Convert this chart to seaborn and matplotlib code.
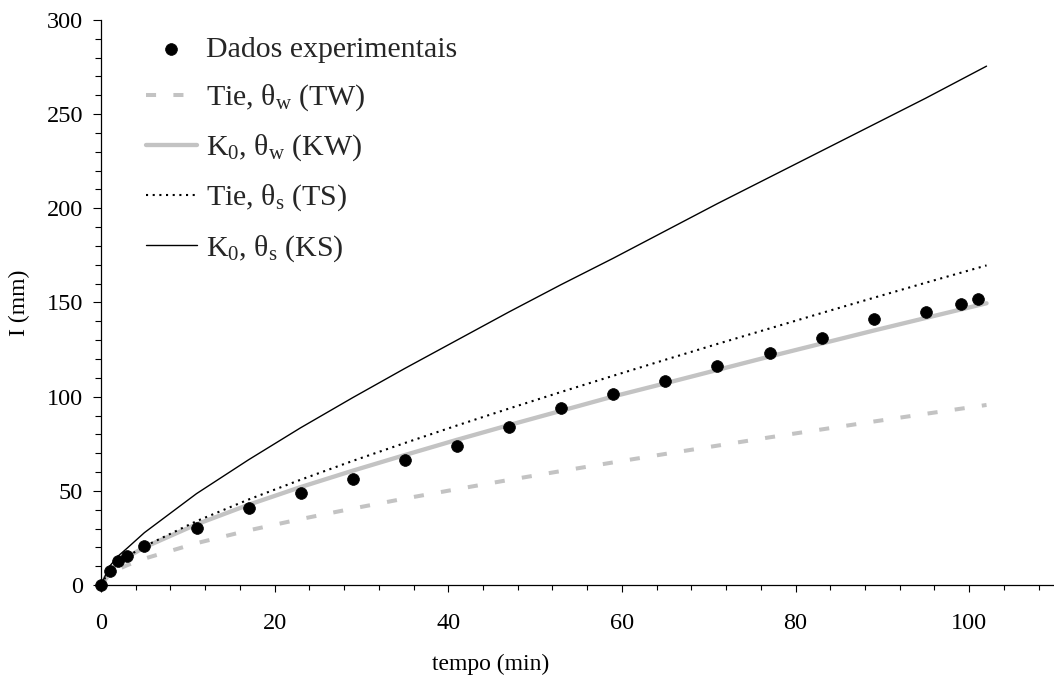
import matplotlib
matplotlib.use("Agg")
import matplotlib.pyplot as plt
import seaborn as sns
import pandas as pd
from matplotlib.ticker import MultipleLocator

# Measured cumulative infiltration
t_obs = [0, 1, 2, 3, 5, 11, 17, 23, 29, 35, 41, 47, 53, 59, 65, 71, 77, 83, 89, 95, 99, 101]
i_obs = [0, 7.5, 12.5, 15.2, 20.5, 30.3, 40.8, 48.8, 56.3, 66.4, 73.8, 83.9, 93.8, 101.4,
         108.3, 116.3, 123.2, 131.2, 141.3, 145.0, 149.2, 151.9]

# Model curves
t_mod = [0, 1, 2, 3, 5, 11, 17, 23, 29, 35, 41, 47, 53, 59, 65, 71, 77, 83, 89, 95, 102]
i_tw = [0, 5.7, 8.4, 10.5, 14.0, 22.2, 29.0, 35.0, 40.6, 45.9, 50.9, 55.8, 60.5, 65.1,
        69.6, 74.0, 78.4, 82.6, 86.8, 90.9, 95.6]
i_kw = [0, 8.0, 11.7, 14.8, 20.0, 32.2, 42.6, 52.0, 60.7, 69.0, 77.1, 84.9, 92.5, 100.1,
        107.1, 114.2, 121.3, 128.2, 135.1, 141.8, 149.6]
i_ts = [0, 8.0, 11.9, 15.1, 20.5, 33.9, 45.4, 55.9, 65.9, 75.4, 84.7, 93.7, 102.5, 111.1,
        119.6, 128.0, 136.2, 144.4, 152.5, 160.5, 169.7]
i_ks = [0, 10.0, 15.5, 19.5, 27.8, 48.5, 66.5, 83.5, 99.5, 115.0, 130.0, 145.0, 159.5,
        173.5, 188.0, 202.5, 216.5, 230.5, 244.5, 258.5, 275.5]

labels = ["Dados experimentais",
          "Tie, θ$_\\mathrm{w}$ (TW)",
          "K$_\\mathrm{0}$, θ$_\\mathrm{w}$ (KW)",
          "Tie, θ$_\\mathrm{s}$ (TS)",
          "K$_\\mathrm{0}$, θ$_\\mathrm{s}$ (KS)"]

sns.set_theme(style="ticks")
plt.rcParams["font.family"] = ["Liberation Serif", "DejaVu Serif"]
plt.rcParams["mathtext.fontset"] = "custom"
plt.rcParams["mathtext.rm"] = "Liberation Serif"
plt.rcParams["mathtext.it"] = "Liberation Serif:italic"
plt.rcParams["mathtext.bf"] = "Liberation Serif:bold"

obs = pd.DataFrame({"tempo": t_obs, "I": i_obs})
mod = pd.DataFrame({"tempo": t_mod, "TW": i_tw, "KW": i_kw, "TS": i_ts, "KS": i_ks})

fig = plt.figure(figsize=(10.54, 6.8), dpi=100)
ax = fig.add_axes([101 / 1054, 95 / 680, 955 / 1054, 565 / 680])

gray = "#c3c3c3"
sns.lineplot(data=mod, x="tempo", y="TW", ax=ax, color=gray, lw=2.9,
             linestyle=(0, (2.5, 4.3)), label=labels[1], zorder=2)
sns.lineplot(data=mod, x="tempo", y="KW", ax=ax, color=gray, lw=3.1,
             label=labels[2], zorder=2)
sns.lineplot(data=mod, x="tempo", y="TS", ax=ax, color="black", lw=1.5,
             linestyle=(0, (1.0, 2.2)), label=labels[3], zorder=3)
sns.lineplot(data=mod, x="tempo", y="KS", ax=ax, color="black", lw=1.0,
             label=labels[4], zorder=3)
sns.scatterplot(data=obs, x="tempo", y="I", ax=ax, color="black", s=72,
                edgecolor="black", linewidth=0.5, label=labels[0], zorder=5,
                clip_on=False)

ax.set_xlim(0, 110)
ax.set_ylim(0, 300)
ax.xaxis.set_major_locator(MultipleLocator(20))
ax.xaxis.set_minor_locator(MultipleLocator(4))
ax.yaxis.set_major_locator(MultipleLocator(50))
ax.yaxis.set_minor_locator(MultipleLocator(10))

for side in ("top", "right"):
    ax.spines[side].set_visible(False)
for side in ("left", "bottom"):
    ax.spines[side].set_linewidth(0.9)
    ax.spines[side].set_color("black")

ax.tick_params(axis="both", which="both", direction="out", color="black",
               width=0.8, labelsize=17.5, labelcolor="black")
ax.tick_params(axis="x", which="major", length=5, pad=15)
ax.tick_params(axis="x", which="minor", length=3.7)
ax.tick_params(axis="y", which="major", length=6, pad=7)
ax.tick_params(axis="y", which="minor", length=4.5)

ax.set_xlabel("tempo (min)", fontsize=17, color="black")
ax.set_ylabel("I (mm)", fontsize=17, color="black")
ax.xaxis.set_label_coords(0.408, -0.121)
ax.yaxis.set_label_coords(-0.074, 0.5)

handles, labs = ax.get_legend_handles_labels()
order = [labs.index(l) for l in labels]
ax.legend([handles[i] for i in order], [labs[i] for i in order],
          loc="upper left", bbox_to_anchor=(0.047, 0.971), frameon=False,
          fontsize=21.5, handlelength=1.7, handletextpad=0.3,
          labelspacing=0.65, borderpad=0, borderaxespad=0)

ax.set_facecolor("white")
fig.patch.set_facecolor("white")
fig.savefig("out.png", dpi=100, facecolor="white")
